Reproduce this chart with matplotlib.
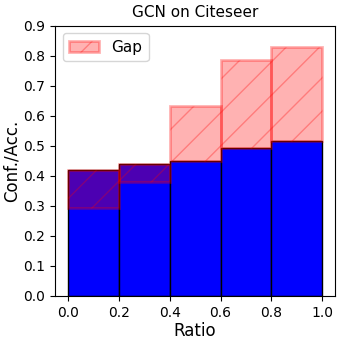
import numpy as np
import matplotlib
matplotlib.use("Agg")
import matplotlib.pyplot as plt

# bin lower edges and per-bin values
bins = [0.0, 0.2, 0.4, 0.6, 0.8]
accuracy = [0.42, 0.44, 0.45, 0.493, 0.517]
confidence = [0.293, 0.38, 0.633, 0.787, 0.831]

width = 0.2

fig = plt.figure(figsize=(3.41, 3.44), dpi=100)
ax = fig.add_axes([0.161, 0.14, 0.822, 0.785])

ax.bar(bins, accuracy, width=width, align='edge', color='blue', edgecolor='black', linewidth=1)

gap = np.array(confidence) - np.array(accuracy)
ax.bar(bins, gap, bottom=accuracy, width=width, align='edge', color='red', alpha=0.3,
       edgecolor='red', linewidth=2, hatch='/', label='Gap')

ax.set_xlim(-0.05, 1.05)
ax.set_ylim(0, 0.9)
ax.set_xticks([0.0, 0.2, 0.4, 0.6, 0.8, 1.0])
ax.set_yticks(np.arange(0, 0.91, 0.1))
ax.tick_params(labelsize=10)

ax.set_xlabel('Ratio', fontsize=12, labelpad=2)
ax.set_ylabel('Conf./Acc.', fontsize=12, labelpad=2)
ax.set_title('GCN on Citeseer', fontsize=11)
ax.legend(loc='upper left', fontsize=11)

fig.savefig('out.png', dpi=100)
